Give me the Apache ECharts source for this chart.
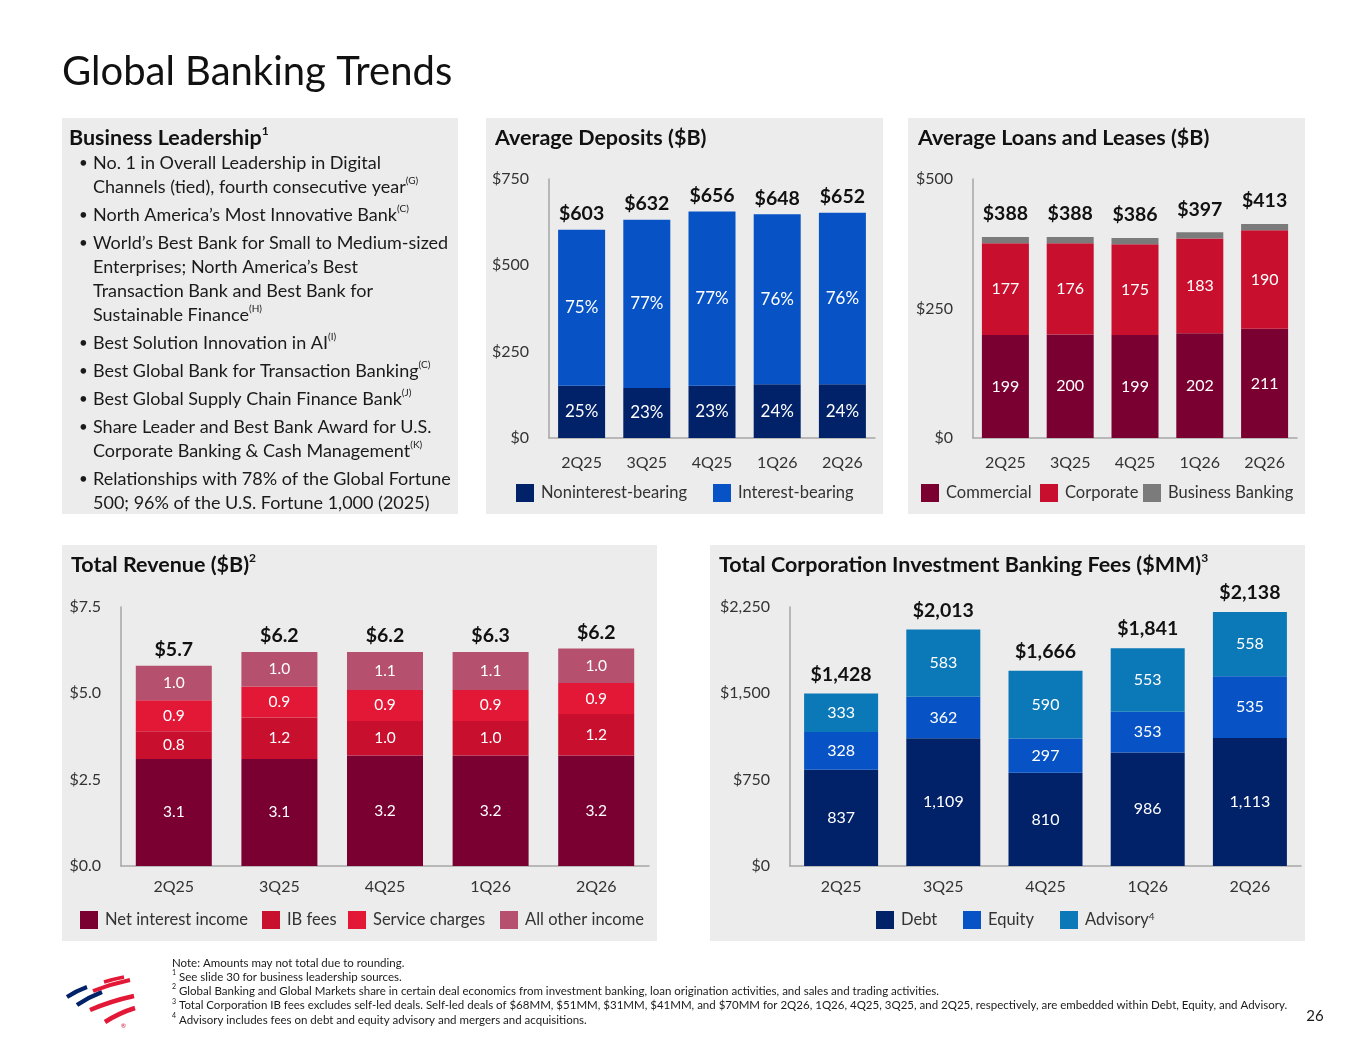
<!DOCTYPE html>
<html>
<head>
<meta charset="utf-8">
<title>Global Banking Trends</title>
<script src="https://cdn.jsdelivr.net/npm/echarts@6/dist/echarts.min.js"></script>
<style>
  html, body { margin: 0; padding: 0; background: #fff; }
  #main { width: 1365px; height: 1055px; }
</style>
</head>
<body>
<div id="main"></div>
<script>
// ---- data ----
var quarters = ['2Q25', '3Q25', '4Q25', '1Q26', '2Q26'];

var depNonInterest = [151, 145, 151, 156, 156];
var depInterest = [452, 487, 505, 492, 496];
var depNonInterestPct = ['25%', '23%', '23%', '24%', '24%'];
var depInterestPct = ['75%', '77%', '77%', '76%', '76%'];
var depTotals = [603, 632, 656, 648, 652];
var depTicks = [0, 250, 500, 750];

var loanCommercial = [199, 200, 199, 202, 211];
var loanCorporate = [177, 176, 175, 183, 190];
var loanBusiness = [12, 12, 12, 12, 12];
var loanTotals = [388, 388, 386, 397, 413];
var loanTicks = [0, 250, 500];

var revNii = [3.1, 3.1, 3.2, 3.2, 3.2];
var revIbFees = [0.8, 1.2, 1.0, 1.0, 1.2];
var revService = [0.9, 0.9, 0.9, 0.9, 0.9];
var revOther = [1.0, 1.0, 1.1, 1.1, 1.0];
var revTotals = [5.7, 6.2, 6.2, 6.3, 6.2];
var revTicks = [0, 2.5, 5.0, 7.5];

var ibDebt = [837, 1109, 810, 986, 1113];
var ibEquity = [328, 362, 297, 353, 535];
var ibAdvisory = [333, 583, 590, 553, 558];
var ibTotals = [1428, 2013, 1666, 1841, 2138];
var ibTicks = [0, 750, 1500, 2250];

var bullets = [
  ['No. 1 in Overall Leadership in Digital', 'Channels (tied), fourth consecutive year|(G)'],
  ['North America\u2019s Most Innovative Bank|(C)'],
  ['World\u2019s Best Bank for Small to Medium-sized', 'Enterprises; North America\u2019s Best',
   'Transaction Bank and Best Bank for', 'Sustainable Finance|(H)'],
  ['Best Solution Innovation in AI|(I)'],
  ['Best Global Bank for Transaction Banking|(C)'],
  ['Best Global Supply Chain Finance Bank|(J)'],
  ['Share Leader and Best Bank Award for U.S.', 'Corporate Banking & Cash Management|(K)'],
  ['Relationships with 78% of the Global Fortune', '500; 96% of the U.S. Fortune 1,000 (2025)']
];

var footnotes = [
  'Note: Amounts may not total due to rounding.',
  '1| See slide 30 for business leadership sources.',
  '2| Global Banking and Global Markets share in certain deal economics from investment banking, loan origination activities, and sales and trading activities.',
  '3| Total Corporation IB fees excludes self-led deals. Self-led deals of $68MM, $51MM, $31MM, $41MM, and $70MM for 2Q26, 1Q26, 4Q25, 3Q25, and 2Q25, respectively, are embedded within Debt, Equity, and Advisory.',
  '4| Advisory includes fees on debt and equity advisory and mergers and acquisitions.'
];

// ---- colours ----
var NAVY = '#012169', BLUE = '#0753c6', TEAL = '#0b78b7';
var MAROON = '#7a0032', RED = '#c8102e', BRIGHT = '#e31837', MAUVE = '#b5506e', GREY = '#7b7b7b';
var LOGO_RED = '#e31837';
var FONT = 'Lato';
var TXT = '#1a1a1a';

function fmtThousands(v) { return v.toLocaleString('en-US'); }

// ---- graphic helpers ----
var gfx = [];
function panel(x, y, w, h) {
  gfx.push({ type: 'rect', z: -10, shape: { x: x, y: y, width: w, height: h }, style: { fill: '#ececec' } });
}
function text(x, y, str, size, opts) {
  opts = opts || {};
  var parts = str.split('|');
  var rich = parts.length > 1 ? '{m|' + parts[0] + '}{s|' + parts[1] + '}' : '{m|' + parts[0] + '}';
  if (opts.supFirst) rich = '{s|' + parts[0] + '}{m|' + parts[1] + '}';
  var supSize = Math.round(size * (opts.supScale || 0.6));
  gfx.push({
    type: 'text', x: x, y: y, z: 10,
    style: {
      text: rich,
      align: opts.align || 'left',
      verticalAlign: 'middle',
      rich: {
        m: { fontFamily: FONT, fontSize: size, fontWeight: opts.bold ? 'bold' : 'normal', fill: opts.color || TXT, lineHeight: size + 4 },
        s: { fontFamily: FONT, fontSize: supSize, fontWeight: opts.bold ? 'bold' : 'normal', fill: opts.color || TXT, lineHeight: supSize, verticalAlign: 'top' }
      }
    }
  });
}

panel(62, 118, 396, 396);
panel(486, 118, 397, 396);
panel(908, 118, 397, 396);
panel(62, 545, 595, 396);
panel(710, 545, 595, 396);

text(62, 72, 'Global Banking Trends', 40, { color: '#111' });
text(69, 138, 'Business Leadership|1', 21.5, { bold: true, color: '#111', supScale: 0.55 });
text(495, 138, 'Average Deposits ($B)', 21.5, { bold: true, color: '#111' });
text(918, 138, 'Average Loans and Leases ($B)', 21.5, { bold: true, color: '#111' });
text(71, 565, 'Total Revenue ($B)|2', 21.5, { bold: true, color: '#111', supScale: 0.55 });
text(719, 565, 'Total Corporation Investment Banking Fees ($MM)|3', 21.5, { bold: true, color: '#111', supScale: 0.55 });

// bullet list
var lineY = 163;
bullets.forEach(function (b) {
  text(79, lineY, '\u2022', 15);
  b.forEach(function (ln, i) {
    text(93, lineY, ln, 18, { supScale: 0.58 });
    lineY += (i < b.length - 1) ? 24 : 28;
  });
});

// footnotes
footnotes.forEach(function (f, i) {
  var y = 963 + i * 14.2;
  if (i === 0) text(172, y, f, 11.5);
  else text(172, y, f, 11.5, { supFirst: true });
});
text(1315, 1016, '26', 15, { align: 'center' });

// logo stripes
function stripe(x1, y1, cx, cy, x2, y2, w, c) {
  gfx.push({ type: 'bezierCurve', z: 10, shape: { x1: x1, y1: y1, cpx1: cx, cpy1: cy, x2: x2, y2: y2 },
    style: { stroke: c, lineWidth: w, fill: null, lineCap: 'butt' } });
}
stripe(67, 997, 76, 991, 87, 987, 4, NAVY);
stripe(77, 1005, 89, 997, 102, 992, 4.5, NAVY);
stripe(104, 982, 114, 979, 124, 977, 3.5, LOGO_RED);
stripe(93, 991, 111, 984, 130, 980, 4, LOGO_RED);
stripe(90, 1010, 111, 1001, 134, 996, 4.5, LOGO_RED);
stripe(105, 1022, 119, 1013, 135, 1008, 4.5, LOGO_RED);
gfx.push({ type: 'text', x: 121, y: 1023, z: 10, style: { text: '\u00ae', fontSize: 6, fill: RED, fontFamily: FONT } });

// ---- axes ----
var axisLineStyle = { color: '#a6a6a6', width: 1.5 };
function xAxis(i, margin) {
  return {
    type: 'category', gridIndex: i, data: quarters,
    axisLine: { lineStyle: axisLineStyle }, axisTick: { show: false },
    axisLabel: { color: '#333', fontSize: 16, fontFamily: FONT, margin: margin }
  };
}
function yAxis(i, ticks, fmt) {
  return {
    type: 'value', gridIndex: i,
    min: ticks[0], max: ticks[ticks.length - 1], interval: ticks[1] - ticks[0],
    axisLine: { show: true, lineStyle: axisLineStyle }, axisTick: { show: false },
    splitLine: { show: false },
    axisLabel: { color: '#333', fontSize: 16, fontFamily: FONT, margin: 20, formatter: fmt }
  };
}

// ---- series helpers ----
function seg(name, idx, stack, data, color, width, labelFn, size) {
  return {
    name: name, type: 'bar', xAxisIndex: idx, yAxisIndex: idx, stack: stack,
    data: data, barWidth: width, itemStyle: { color: color },
    label: labelFn ? {
      show: true, position: 'inside', color: '#fff', fontSize: size || 16, fontFamily: FONT,
      formatter: function (p) { return labelFn(p); }
    } : { show: false },
    emphasis: { disabled: true }
  };
}
function totals(idx, stack, tot, width, fmt, dist) {
  return {
    type: 'bar', xAxisIndex: idx, yAxisIndex: idx, stack: stack,
    data: tot.map(function () { return 0; }), barWidth: width,
    itemStyle: { color: 'transparent' }, silent: true,
    label: {
      show: true, position: 'top', distance: dist, color: '#111', fontSize: 19.5,
      fontWeight: 'bold', fontFamily: FONT,
      formatter: function (p) { return fmt(tot[p.dataIndex]); }
    }
  };
}
function legendItem(name, left, top, fmt) {
  var l = {
    data: [name], left: left, top: top, icon: 'rect', itemWidth: 18, itemHeight: 18,
    padding: 0, selectedMode: false,
    textStyle: { color: '#333', fontSize: 16.5, fontFamily: FONT, padding: [0, 0, 0, 2] }
  };
  if (fmt) {
    l.formatter = fmt;
    l.textStyle.rich = {
      m: { fontSize: 16.5, fontFamily: FONT, color: '#333' },
      s: { fontSize: 10, fontFamily: FONT, color: '#333', verticalAlign: 'top', lineHeight: 10 }
    };
  }
  return l;
}

var option = {
  backgroundColor: '#fff',
  animation: false,
  textStyle: { fontFamily: FONT },
  graphic: { elements: gfx },
  grid: [
    { left: 549, top: 179, width: 326, height: 259 },
    { left: 973, top: 179, width: 324, height: 259 },
    { left: 121, top: 607, width: 528, height: 259 },
    { left: 790, top: 607, width: 511, height: 259 }
  ],
  xAxis: [xAxis(0, 17), xAxis(1, 17), xAxis(2, 13), xAxis(3, 13)],
  yAxis: [
    yAxis(0, depTicks, function (v) { return '$' + v; }),
    yAxis(1, loanTicks, function (v) { return '$' + v; }),
    yAxis(2, revTicks, function (v) { return '$' + v.toFixed(1); }),
    yAxis(3, ibTicks, function (v) { return '$' + fmtThousands(v); })
  ],
  legend: [
    legendItem('Noninterest-bearing', 516, 484),
    legendItem('Interest-bearing', 713, 484),
    legendItem('Commercial', 921, 484),
    legendItem('Corporate', 1040, 484),
    legendItem('Business Banking', 1143, 484),
    legendItem('Net interest income', 80, 911),
    legendItem('IB fees', 262, 911),
    legendItem('Service charges', 348, 911),
    legendItem('All other income', 500, 911),
    legendItem('Debt', 876, 911),
    legendItem('Equity', 963, 911),
    legendItem('Advisory', 1060, 911, function () { return '{m|Advisory}{s|4}'; })
  ],
  series: [
    seg('Noninterest-bearing', 0, 'dep', depNonInterest, NAVY, 47, function (p) { return depNonInterestPct[p.dataIndex]; }, 17),
    seg('Interest-bearing', 0, 'dep', depInterest, BLUE, 47, function (p) { return depInterestPct[p.dataIndex]; }, 17),
    totals(0, 'dep', depTotals, 47, function (v) { return '$' + v; }, 6),

    seg('Commercial', 1, 'loan', loanCommercial, MAROON, 47, function (p) { return p.value; }),
    seg('Corporate', 1, 'loan', loanCorporate, RED, 47, function (p) { return p.value; }),
    seg('Business Banking', 1, 'loan', loanBusiness, GREY, 47, null),
    totals(1, 'loan', loanTotals, 47, function (v) { return '$' + v; }, 13),

    seg('Net interest income', 2, 'rev', revNii, MAROON, 76, function (p) { return p.value.toFixed(1); }, 15.5),
    seg('IB fees', 2, 'rev', revIbFees, RED, 76, function (p) { return p.value.toFixed(1); }, 15.5),
    seg('Service charges', 2, 'rev', revService, BRIGHT, 76, function (p) { return p.value.toFixed(1); }, 15.5),
    seg('All other income', 2, 'rev', revOther, MAUVE, 76, function (p) { return p.value.toFixed(1); }, 15.5),
    totals(2, 'rev', revTotals, 76, function (v) { return '$' + v.toFixed(1); }, 6),

    seg('Debt', 3, 'ib', ibDebt, NAVY, 74, function (p) { return fmtThousands(p.value); }),
    seg('Equity', 3, 'ib', ibEquity, BLUE, 74, function (p) { return fmtThousands(p.value); }),
    seg('Advisory', 3, 'ib', ibAdvisory, TEAL, 74, function (p) { return fmtThousands(p.value); }),
    totals(3, 'ib', ibTotals, 74, function (v) { return '$' + fmtThousands(v); }, 9)
  ]
};

var chart = echarts.init(document.getElementById('main'));
chart.setOption(option);
</script>
</body>
</html>
